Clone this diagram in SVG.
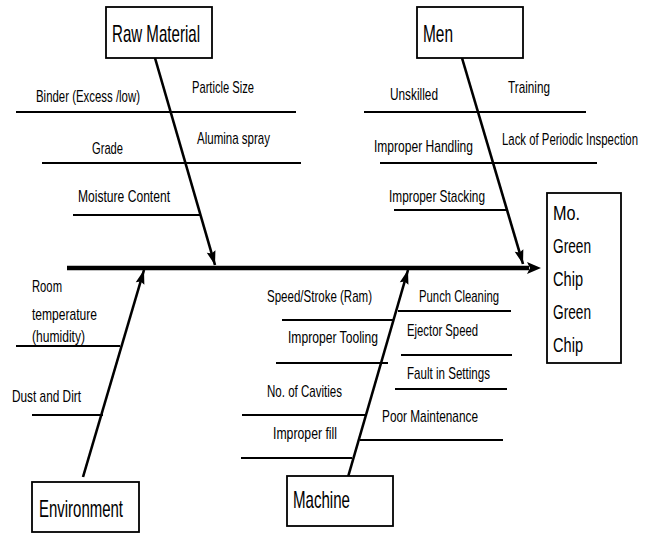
<svg xmlns="http://www.w3.org/2000/svg" width="652" height="533" viewBox="0 0 652 533">
<defs>
<style>
text{font-family:"Liberation Sans Narrow","Liberation Sans",Arial,sans-serif;fill:#000;}
.lb{font-size:17px;}
.tt{font-size:24px;}
.mo{font-size:21px;}
.box{fill:#fff;stroke:#000;stroke-width:1.8;}
.br{stroke:#000;stroke-width:2;fill:none;}
.dg{stroke:#000;stroke-width:2.6;fill:none;}
.sp{stroke:#000;stroke-width:4.5;fill:none;}
</style>
<marker id="ah" markerUnits="userSpaceOnUse" markerWidth="16" markerHeight="12" refX="14" refY="5" orient="auto" overflow="visible">
<path d="M0,0.5 L14,5 L0,9.5 L2,5 Z" fill="#000"/>
</marker>
<marker id="sh" markerUnits="userSpaceOnUse" markerWidth="16" markerHeight="14" refX="2" refY="6" orient="auto" overflow="visible">
<path d="M0,0 L14,6 L0,12 L3,6 Z" fill="#000"/>
</marker>
</defs>
<rect width="652" height="533" fill="#fff"/>

<g id="connectors">
<line class="sp" x1="67" y1="268" x2="529" y2="268" marker-end="url(#sh)"/>
<line class="dg" x1="155" y1="58" x2="215" y2="265" marker-end="url(#ah)"/>
<line class="dg" x1="462" y1="58" x2="523" y2="264" marker-end="url(#ah)"/>
<line class="dg" x1="83" y1="477" x2="144" y2="270" marker-end="url(#ah)"/>
<line class="dg" x1="348" y1="477" x2="408" y2="270" marker-end="url(#ah)"/>
<line class="br" x1="16" y1="112" x2="296" y2="112"/>
<line class="br" x1="42" y1="163" x2="301" y2="163"/>
<line class="br" x1="73" y1="215" x2="200" y2="215"/>
<line class="br" x1="364" y1="112" x2="586" y2="112"/>
<line class="br" x1="380" y1="163" x2="597" y2="163"/>
<line class="br" x1="394" y1="210" x2="507" y2="210"/>
<line class="br" x1="16" y1="346" x2="120" y2="346"/>
<line class="br" x1="32" y1="415" x2="103" y2="415"/>
<line class="br" x1="282" y1="320" x2="393" y2="320"/>
<line class="br" x1="276" y1="363" x2="388" y2="363"/>
<line class="br" x1="242" y1="415" x2="365" y2="415"/>
<line class="br" x1="241" y1="458" x2="352" y2="458"/>
<line class="br" x1="398" y1="311" x2="511" y2="311"/>
<line class="br" x1="401" y1="355" x2="512" y2="355"/>
<line class="br" x1="395" y1="389" x2="507" y2="389"/>
<line class="br" x1="360" y1="440" x2="503" y2="440"/>
</g>

<g id="raw-material">
<rect class="box" x="106" y="7" width="106" height="51"/>
<text class="tt" x="112" y="42" textLength="88" lengthAdjust="spacingAndGlyphs">Raw Material</text>
<text class="lb" x="36" y="102" textLength="104" lengthAdjust="spacingAndGlyphs">Binder (Excess /low)</text>
<text class="lb" x="192" y="93" textLength="62" lengthAdjust="spacingAndGlyphs">Particle Size</text>
<text class="lb" x="92" y="154" textLength="31" lengthAdjust="spacingAndGlyphs">Grade</text>
<text class="lb" x="197" y="144" textLength="73" lengthAdjust="spacingAndGlyphs">Alumina spray</text>
<text class="lb" x="78" y="202" textLength="92" lengthAdjust="spacingAndGlyphs">Moisture Content</text>
</g>

<g id="men">
<rect class="box" x="417" y="7" width="106" height="51"/>
<text class="tt" x="423" y="42" textLength="30" lengthAdjust="spacingAndGlyphs">Men</text>
<text class="lb" x="390" y="100" textLength="48" lengthAdjust="spacingAndGlyphs">Unskilled</text>
<text class="lb" x="508" y="93" textLength="42" lengthAdjust="spacingAndGlyphs">Training</text>
<text class="lb" x="374" y="152" textLength="99" lengthAdjust="spacingAndGlyphs">Improper Handling</text>
<text class="lb" transform="translate(502,145) scale(0.67,1)" x="0" y="0">Lack of Periodic Inspection</text>
<text class="lb" x="389" y="202" textLength="96" lengthAdjust="spacingAndGlyphs">Improper Stacking</text>
</g>

<g id="environment">
<rect class="box" x="32" y="482" width="107" height="50"/>
<text class="tt" x="39" y="517" textLength="84" lengthAdjust="spacingAndGlyphs">Environment</text>
<text class="lb" x="32" y="292" textLength="30" lengthAdjust="spacingAndGlyphs">Room</text>
<text class="lb" x="32" y="320" textLength="65" lengthAdjust="spacingAndGlyphs">temperature</text>
<text class="lb" x="32" y="342" textLength="53" lengthAdjust="spacingAndGlyphs">(humidity)</text>
<text class="lb" x="12" y="402" textLength="69" lengthAdjust="spacingAndGlyphs">Dust and Dirt</text>
</g>

<g id="machine">
<rect class="box" x="287" y="476" width="106" height="50"/>
<text class="tt" x="293" y="508" textLength="57" lengthAdjust="spacingAndGlyphs">Machine</text>
<text class="lb" x="267" y="302" textLength="105" lengthAdjust="spacingAndGlyphs">Speed/Stroke (Ram)</text>
<text class="lb" x="288" y="343" textLength="90" lengthAdjust="spacingAndGlyphs">Improper Tooling</text>
<text class="lb" x="267" y="397" textLength="75" lengthAdjust="spacingAndGlyphs">No. of Cavities</text>
<text class="lb" x="273" y="439" textLength="64" lengthAdjust="spacingAndGlyphs">Improper fill</text>
<text class="lb" x="419" y="302" textLength="80" lengthAdjust="spacingAndGlyphs">Punch Cleaning</text>
<text class="lb" x="407" y="336" textLength="71" lengthAdjust="spacingAndGlyphs">Ejector Speed</text>
<text class="lb" x="407" y="379" textLength="83" lengthAdjust="spacingAndGlyphs">Fault in Settings</text>
<text class="lb" x="382" y="422" textLength="96" lengthAdjust="spacingAndGlyphs">Poor Maintenance</text>
</g>

<g id="effect">
<rect class="box" x="547" y="193" width="74" height="170"/>
<text class="mo" x="553" y="220" textLength="27" lengthAdjust="spacingAndGlyphs">Mo.</text>
<text class="mo" x="553" y="253" textLength="38" lengthAdjust="spacingAndGlyphs">Green</text>
<text class="mo" x="553" y="286" textLength="30" lengthAdjust="spacingAndGlyphs">Chip</text>
<text class="mo" x="553" y="319" textLength="38" lengthAdjust="spacingAndGlyphs">Green</text>
<text class="mo" x="553" y="352" textLength="30" lengthAdjust="spacingAndGlyphs">Chip</text>
</g>
</svg>
